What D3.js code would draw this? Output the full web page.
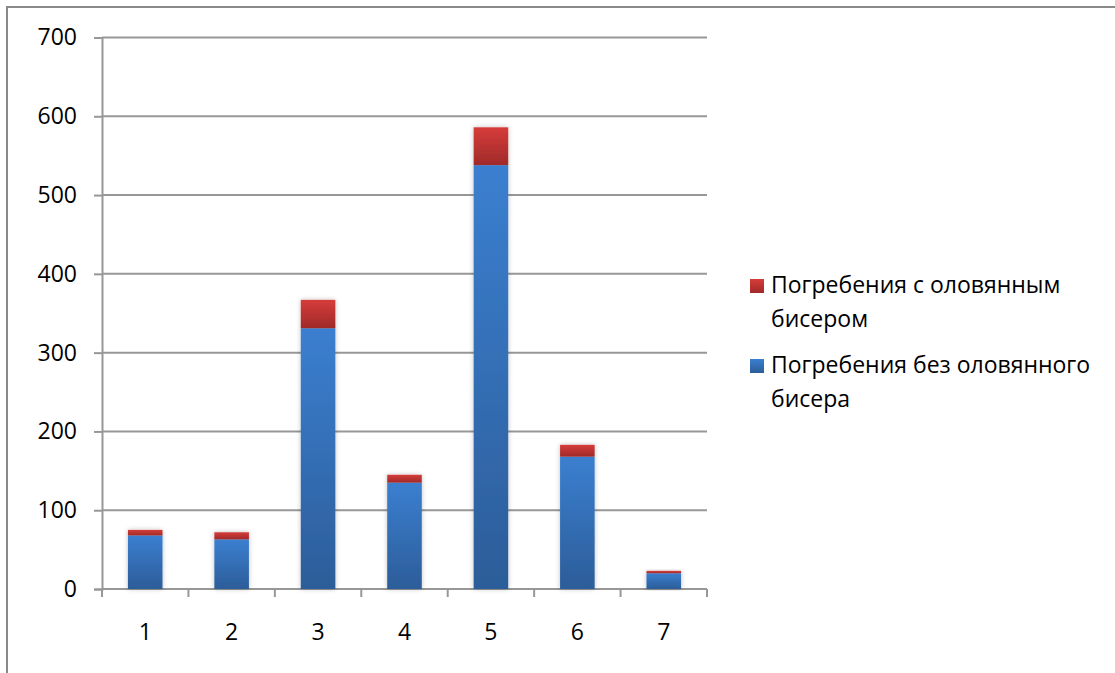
<!DOCTYPE html>
<html><head><meta charset="utf-8">
<script src="https://cdn.jsdelivr.net/npm/d3@7"></script>
<style>body{margin:0;background:#fff}svg{display:block}</style>
</head><body>
<svg id="c" width="1115" height="673"></svg>
<script>
const categories = ["1","2","3","4","5","6","7"];
const withoutBeads = [68, 63, 331, 135, 538, 168, 20];
const withBeads = [7, 9, 36, 10, 48, 15, 3];
const yTicks = [0,100,200,300,400,500,600,700];
const seriesNames = ["Погребения с оловянным бисером", "Погребения без оловянного бисера"];
const legendLines = [["Погребения с оловянным","бисером"], ["Погребения без оловянного","бисера"]];

const svg = d3.select("#c");
const font = "'Open Sans', 'Noto Sans', sans-serif";
const defs = svg.append("defs");
function grad(id, c1, c2){
  const g = defs.append("linearGradient").attr("id", id).attr("x1",0).attr("y1",0).attr("x2",0).attr("y2",1);
  g.append("stop").attr("offset","0%").attr("stop-color",c1);
  g.append("stop").attr("offset","100%").attr("stop-color",c2);
}
grad("gBlue","#3b7fd0","#2c5d99");
grad("gRed","#d63c3a","#a02a29");
const f = defs.append("filter").attr("id","sh").attr("x","-30%").attr("y","-10%").attr("width","160%").attr("height","120%");
f.append("feGaussianBlur").attr("in","SourceAlpha").attr("stdDeviation",2.5).attr("result","b");
f.append("feComponentTransfer").attr("in","b").attr("result","b2").append("feFuncA").attr("type","linear").attr("slope",0.25);
const m = f.append("feMerge"); m.append("feMergeNode").attr("in","b2"); m.append("feMergeNode").attr("in","SourceGraphic");

// outer border
svg.append("path").attr("d","M7,673 V7 H1115").attr("fill","none").attr("stroke","#8a8a8a").attr("stroke-width",2);

const x = d3.scaleBand().domain(categories).range([102,707]).paddingInner(0.6).paddingOuter(0.3);
const y = d3.scaleLinear().domain([0,700]).range([589,37.5]);

// gridlines
svg.append("g").selectAll("line").data(yTicks.filter(d=>d>0)).join("line")
  .attr("x1",102).attr("x2",707).attr("y1",d=>y(d)).attr("y2",d=>y(d))
  .attr("stroke","#979797").attr("stroke-width",2);

// y axis
const ya = svg.append("g").attr("transform","translate(102,0)")
  .call(d3.axisLeft(y).tickValues(yTicks).tickSize(8).tickPadding(17));
ya.select(".domain").attr("stroke","#979797").attr("stroke-width",2);
ya.selectAll(".tick line").attr("stroke","#979797").attr("stroke-width",2);
ya.selectAll("text").attr("font-family",font).attr("font-size",23).attr("fill","#000");

// x axis
const xa = svg.append("g").attr("transform","translate(0,589)")
  .call(d3.axisBottom(x).tickSize(0));
xa.select(".domain").attr("stroke","#979797").attr("stroke-width",2).attr("d","M102,0H707");
xa.selectAll("text").attr("font-family",font).attr("font-size",23).attr("fill","#000").attr("y",51).attr("dy",0);
const bounds = d3.range(categories.length+1).map(i=>102 + i*(605/categories.length));
xa.append("g").selectAll("line").data(bounds).join("line")
  .attr("x1",d=>d).attr("x2",d=>d).attr("y1",0).attr("y2",8)
  .attr("stroke","#979797").attr("stroke-width",2);

// bars
const data = categories.map((c,i)=>({c, a:withoutBeads[i], b:withBeads[i]}));
const grp = svg.append("g").selectAll("g").data(data).join("g").attr("filter","url(#sh)");
grp.append("rect").attr("x",d=>x(d.c)).attr("width",x.bandwidth())
  .attr("y",d=>y(d.a)).attr("height",d=>y(0)-y(d.a)).attr("fill","url(#gBlue)");
grp.append("rect").attr("x",d=>x(d.c)).attr("width",x.bandwidth())
  .attr("y",d=>y(d.a+d.b)).attr("height",d=>y(d.a)-y(d.a+d.b)).attr("fill","url(#gRed)");

// legend
const leg = svg.append("g");
const items = [
  {lines:legendLines[0], fill:"url(#gRed)", y:279},
  {lines:legendLines[1], fill:"url(#gBlue)", y:359}
];
items.forEach((it,i)=>{
  leg.append("rect").attr("x",750).attr("y",it.y).attr("width",14).attr("height",14).attr("fill",it.fill);
  const t = leg.append("text").attr("font-family",font).attr("font-size",23).attr("fill","#000");
  it.lines.forEach((l,j)=>{
    t.append("tspan").attr("x",771).attr("y",it.y+14+j*34).text(l);
  });
});
</script>
</body></html>
